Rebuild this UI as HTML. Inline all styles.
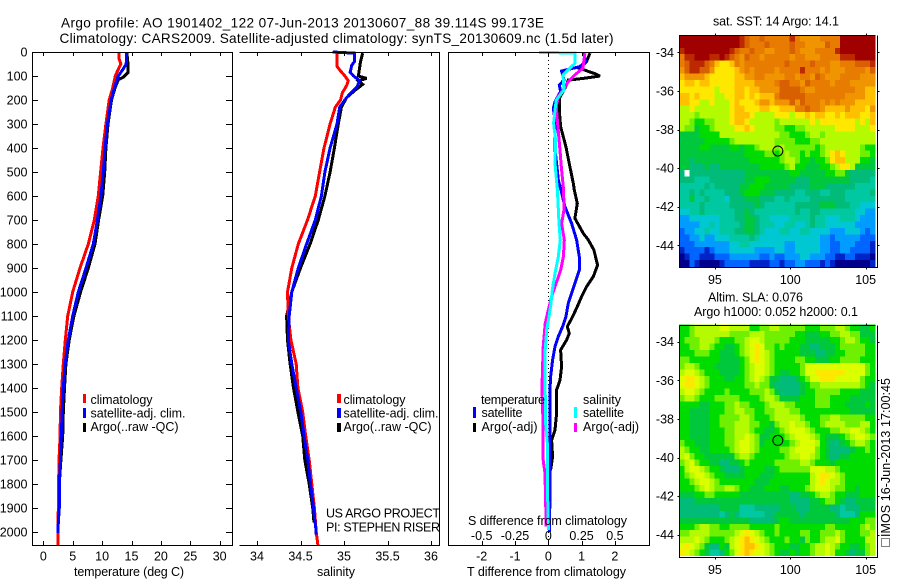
<!DOCTYPE html>
<html lang="en">
<head>
<meta charset="utf-8">
<title>Argo profile 1901402_122</title>
<style>
html,body{margin:0;padding:0;background:#fff;}
svg{display:block;}
text{font-family:"Liberation Sans",sans-serif;font-size:12.5px;fill:#000;}
.crisp{shape-rendering:crispEdges;}
</style>
</head>
<body>
<svg id="chart" xmlns="http://www.w3.org/2000/svg" width="900" height="580" viewBox="0 0 900 580">
  <rect x="0" y="0" width="900" height="580" fill="#fff"/>
  <g id="maps"></g>
  <g id="profiles"></g>
  <g id="axes"></g>
  <g id="labels">
    <text style="font-size:13.6px" x="61" y="27.5" textLength="483" lengthAdjust="spacing">Argo profile: AO 1901402_122 07-Jun-2013 20130607_88 39.114S 99.173E</text>
    <text style="font-size:13.6px" x="59.5" y="43" textLength="554" lengthAdjust="spacing">Climatology: CARS2009. Satellite-adjusted climatology: synTS_20130609.nc (1.5d later)</text>

    <text x="74" y="576" textLength="110" lengthAdjust="spacing">temperature (deg C)</text>
    <text x="317" y="576" textLength="38" lengthAdjust="spacing">salinity</text>
    <text x="467" y="576" textLength="159" lengthAdjust="spacing">T difference from climatology</text>
    <text x="468" y="525" textLength="159" lengthAdjust="spacing">S difference from climatology</text>

    <rect class="crisp" x="83" y="394" width="3" height="9" fill="#f00"/>
    <text x="90.5" y="404" textLength="62" lengthAdjust="spacing">climatology</text>
    <rect class="crisp" x="83" y="408" width="3" height="10" fill="#00f"/>
    <text x="90.5" y="417.5" textLength="95" lengthAdjust="spacing">satellite-adj. clim.</text>
    <rect class="crisp" x="83" y="423" width="3" height="9" fill="#000"/>
    <text x="90.5" y="431" textLength="88" lengthAdjust="spacing">Argo(..raw -QC)</text>

    <rect class="crisp" x="337" y="394" width="4" height="9" fill="#f00"/>
    <text x="343.5" y="404" textLength="62" lengthAdjust="spacing">climatology</text>
    <rect class="crisp" x="337" y="408" width="4" height="10" fill="#00f"/>
    <text x="343.5" y="417.5" textLength="95" lengthAdjust="spacing">satellite-adj. clim.</text>
    <rect class="crisp" x="337" y="423" width="4" height="9" fill="#000"/>
    <text x="343.5" y="431" textLength="88" lengthAdjust="spacing">Argo(..raw -QC)</text>

    <text x="326" y="517.5" textLength="114" lengthAdjust="spacing">US ARGO PROJECT</text>
    <text x="326" y="531.5" textLength="114" lengthAdjust="spacing">PI: STEPHEN RISER</text>

    <text x="481" y="404" textLength="64" lengthAdjust="spacing">temperature</text>
    <rect class="crisp" x="473" y="407" width="3" height="11" fill="#00f"/>
    <text x="481.5" y="417" textLength="41" lengthAdjust="spacing">satellite</text>
    <rect class="crisp" x="473" y="423" width="3" height="9" fill="#000"/>
    <text x="481.5" y="431" textLength="56" lengthAdjust="spacing">Argo(-adj)</text>
    <text x="583" y="404" textLength="38" lengthAdjust="spacing">salinity</text>
    <rect class="crisp" x="574" y="407" width="3" height="11" fill="#0ff"/>
    <text x="583" y="417" textLength="41" lengthAdjust="spacing">satellite</text>
    <rect class="crisp" x="574" y="423" width="3" height="9" fill="#f0f"/>
    <text x="583" y="431" textLength="56" lengthAdjust="spacing">Argo(-adj)</text>

    <text x="713" y="25.5" textLength="126" lengthAdjust="spacing">sat. SST: 14 Argo: 14.1</text>
    <text x="708" y="301.5" textLength="95" lengthAdjust="spacing">Altim. SLA: 0.076</text>
    <text x="694" y="316" textLength="164" lengthAdjust="spacing">Argo h1000: 0.052 h2000: 0.1</text>
    <text transform="translate(890,537) rotate(-90)" x="0" y="0" textLength="159" lengthAdjust="spacing">IMOS 16-Jun-2013 17:00:45</text>
    <rect class="crisp" x="881.5" y="538.5" width="8" height="8" fill="none" stroke="#000" stroke-dasharray="1 1"/>
  </g>
</svg>
<script>
/* ---------- shared depth axis ---------- */
const depthTicks = [0,100,200,300,400,500,600,700,800,900,1000,1100,1200,1300,1400,1500,1600,1700,1800,1900,2000];

/* ---------- temperature panel ---------- */
const tempTicks = [0,5,10,15,20,25,30];
const tempClimDepth = [0,30,50,80,100,150,200,300,400,500,600,700,800,900,1000,1100,1200,1300,1400,1500,1600,1700,1800,2000,2054];
const tempClim = [12.9,12.9,13.2,12.6,12.25,11.8,11.2,10.65,10.15,9.75,9.35,8.68,7.65,6.24,5.0,4.15,3.75,3.4,3.13,2.9,2.85,2.67,2.6,2.5,2.5];
const tempSatDepth = [0,50,70,100,150,200,300,400,500,600,700,800,900,1000,1100,1200,1300,1400,1500,1600,1700,1800,1900,1960,2005];
const tempSat = [14.2,14.1,13.6,12.75,12.1,11.55,10.9,10.5,10.2,9.8,9.2,8.5,7.26,5.95,5.0,4.25,3.7,3.4,3.2,3.06,2.9,2.72,2.72,2.55,2.5];
const tempArgoDepth = [0,50,85,105,115,150,200,300,400,500,600,700,800,900,1000,1100,1200,1300,1400,1500,1600,1700,1800,1900];
const tempArgo = [14.2,14.4,14.4,13.6,12.75,12.2,11.6,11.0,10.65,10.45,10.1,9.4,8.8,7.65,6.35,5.2,4.4,3.85,3.6,3.4,3.3,3.0,2.72,2.72];

/* ---------- salinity panel ---------- */
const salTicks = [34,34.5,35,35.5,36];
const salTickLabels = ['34','34.5','35','35.5','36'];
const salClimDepth = [0,30,60,75,100,120,140,170,200,230,300,400,500,600,700,800,900,1000,1100,1200,1300,1400,1500,1600,1700,1800,1900,2000,2054];
const salClim = [34.92,34.92,34.92,34.95,35.01,35.05,35.03,34.98,34.96,34.9,34.84,34.77,34.72,34.67,34.58,34.475,34.4,34.35,34.36,34.39,34.45,34.47,34.525,34.56,34.6,34.63,34.66,34.68,34.7];
const salSatDepth = [0,5,40,55,85,100,120,145,190,230,300,400,500,600,700,800,900,1000,1100,1200,1300,1400,1500,1600,1700,1800,1900,2000,2010];
const salSat = [34.87,35.12,35.12,35.09,35.07,35.11,35.18,35.15,35.03,34.95,34.92,34.84,34.78,34.74,34.67,34.57,34.475,34.4,34.37,34.36,34.4,34.45,34.505,34.54,34.585,34.615,34.65,34.68,34.68];
const salArgoDepth = [5,40,100,110,120,135,160,190,230,300,400,500,600,700,800,900,1000,1100,1200,1300,1400,1500,1600,1700,1800,1900,1960];
const salArgo = [35.215,35.19,35.165,35.26,35.165,35.215,35.125,35.03,34.97,34.935,34.89,34.84,34.78,34.705,34.61,34.5,34.4,34.34,34.35,34.38,34.42,34.47,34.525,34.55,34.6,34.64,34.655];

/* ---------- difference panel ---------- */
const tDiffTicks = [-2,-1,0,1,2];
const sDiffTicks = [-0.5,-0.25,0,0.25,0.5];
const sDiffLabels = ['-0.5','-0.25','0','0.25','0.5'];
const tSatDiffDepth = [3,40,61,79,117,137,165,207,235,283,325,408,464,533,575,644,714,783,853,908,964,992,1047,1103,1144,1186,1228,1283,1353,1408,1644,1852,2000];
const tSatDiff = [1.05,1.12,0.95,0.4,0.47,0.33,0.37,0.2,0.15,0.2,0.2,0.2,0.25,0.3,0.38,0.5,0.7,0.85,0.93,0.93,0.8,0.73,0.6,0.53,0.43,0.3,0.2,0.13,0.07,0.05,0.05,0.05,0.03];
const tArgoDiffDepth = [5,40,68,90,100,110,117,151,193,242,311,394,478,547,575,631,693,756,783,825,888,936,978,1019,1061,1103,1144,1172,1200,1242,1311,1367,1408,1506,1575,1617,1686,1742];
const tArgoDiff = [1.25,1.15,0.93,1.4,1.55,1.05,0.6,0.5,0.33,0.33,0.37,0.53,0.65,0.75,0.78,0.87,0.8,1.05,1.2,1.37,1.48,1.35,1.15,1.0,0.87,0.73,0.57,0.63,0.55,0.37,0.4,0.35,0.25,0.25,0.2,0.1,0.13,0.07];
const sSatDiffDepth = [3,3.5,47,95,158,200,242,297,367,464,575,714,783,853,922,992,1047,1103,1158,1242,1408,1547,1644,1852,1992];
const sSatDiff = [-0.068,0.2,0.2,0.11,0.118,0.06,0.05,0.04,0.055,0.05,0.068,0.08,0.09,0.075,0.05,0.03,0.02,0.005,-0.012,-0.023,-0.023,-0.02,-0.005,-0.005,0.002];
const sArgoDiffDepth = [5,68,95,123,158,186,228,297,381,492,575,658,714,783,853,908,978,1019,1075,1131,1228,1408,1464,1630,1700,1756,1922,1978];
const sArgoDiff = [0.275,0.26,0.2,0.15,0.11,0.075,0.06,0.07,0.083,0.1,0.115,0.118,0.1,0.12,0.113,0.093,0.05,0.025,0,-0.023,-0.038,-0.048,-0.043,-0.038,-0.038,-0.025,-0.018,-0.018];

/* ---------- maps ---------- */
const lonTicks = [95,100,105];
const latTicks = [-34,-36,-38,-40,-42,-44];
const profileLon = 99.173;
const profileLat = -39.114;
const mapColumns = 39;
const mapRows = 36;
const cellDegrees = 1/3;
/* each character is one map cell's colour level, west to east, north to south */
const sstLevels = [
"rrrrrrrrrr rrqpoopooo ooqonnnnoo oorrrrrrr",
"rrrrrrrrrr rrqpooopoo oopoonnnnp oorrrrrrr",
"qrrrrrrrrr qpoopoonno ooponnnooo oqrrrrrrr",
"oqqrrrqqrq ponpoonooo oonoonnnoo ooqqqrrrr",
"opqqqpomll monooooooo opoooopooo nnooopppq",
"npqqppnlll lmnonoooon ooooqooono nnnoooonp",
"mnnnnmllll lmmnnoonnn noonoonpon nnoooonnn",
"lmmlmmllll lmmmmnnnno ppoonpoooo nooonnnnn",
"lllllllkll lmmlmmnnnn pppponnooo ooooonnmm",
"mmlmlllkkl lmmlmlmmmo pppppooooo ooonnnnmm",
"mmllkklkkk lmlllmnnmn nnpnpooono nonnnmmmm",
"kklkkkkkkk lmmlllmmll mmmoopoonm mmmnmmmln",
"kkkjkkkkkk lmmmlkkkkl llkllmlmml lmlmmmllm",
"kkjiijjkkk lmmlkkkkkj kkkkkklkll lllllklkm",
"kjjhiijkkk kllmlkkkkj jiijjkkkkk kllllkkkl",
"hhhhiiiikk kkkkkkkkkk jjiiijkkjk kkkkkkkkk",
"hhhhhiiiii jkkkkkkkkj jjjiiijjkk kkkkkkkkk",
"hhhhiihhhh iihiijkkkj kjjjjjjijk kkkkkkjii",
"hhhhhhhhhh hhhiiiijji jkjjijiijk lmlkkkjji",
"hhghhhhhhh hhhhiiiiii jkkjiihiij lmmkkkiih",
"hhggghgghh hhhhhhiiii ijkiihhhii jkllkhhhh",
"gwgggggggg ggghhhhhhh hhiihhhhhi ijjhggggg",
"gggfffgggg ggghhiiihh hhhggghhhh hhhhggggf",
"fffffgfggg gghhiiihhh hhgggghhhg gggggffff",
"ffgfgffffg gghiiihhhg gggffgggff gggfffffg",
"ffhffgfffe ggghhhgggf fgffffgggg gggffffff",
"ffffgfffff ggggghgfff fffggggghh hgggffeee",
"eeffgfffff fgghgfffff fffgffggff fffffeedd",
"ddeeeeeeff fgghhgffee eeffffgffe eefffeddd",
"ddddeefeff ffghhgfffe effeefgffe eeeeedddd",
"cddeefeeff fgghhgfeee ffeeffeeee dddeeedcd",
"ccddeddeee ffffgfeeee eeeeeeeedd cdddddccc",
"cccddddddd eeffeeeeee eddeeeeedd ccdddcccb",
"bccccbcddd eeeeedddde eddeeeeedd ccddccccb",
"abccbbbccc ddddddccdc cdddeedddc cbbccbbba",
"aacbaaaabc ccccbbbbcc bccddcccbc baaaaaaab"
];
const slaLevels = [
"iijkkkkkKK kkkkiijjkk jjjjjiiijj jkkjiihhi",
"iijkkkkkkk jjjjkkkjjj jjjiihhhii jjkkjjhhh",
"ijjjkkkjii ijjkKKkjjj jjiiihhhhh iijkkjiih",
"iijjkkjiih hijkKlKjji jiiihhgghh hijjjjjii",
"iiijjjiihh hijkKlKkji iiiihhhggh hiijjjjii",
"jjiiiiiihh hhijKlKkji iiijjiihhh iijjjjiii",
"jkkjiiihhh hhijkKKkji iiiijKKKKK KKKKKKKji",
"kKKkjiiihh hhijkKKkji hhiijKKlll lllKKKKji",
"KllKkjiiih hiijkKkjhh ggghijKKll lKKKKKjii",
"KllKkjiiii iiijjkjjhg gggghijjkk kkkkkkjih",
"kKKkjiiiij iiiijjjkjh gggghiijjj jjiiiihhh",
"jkkjiiijjj jjiiiijkkj hhhhiiijjj iiiihhhhh",
"iiiihhiiij jkjjiiijkk kjjiiiijjj iiihhhhih",
"iihhhhiiij jkkjjiijjk kkjjiiiiii iiiihhhhh",
"iihhhhiijj jjkkjiiijk kkkkjiiijj kkjjjjjii",
"iihhhhiijj jkkkjjiihj kkKkkjiijk kkkjjjkki",
"iihhhhiiij jkkkjiihhi jkKKKkjiii jjkkKKkji",
"iihhhhiiij jkkKkjhhii ijkKKKkjih hhijkKKkj",
"jiihhhiiij jkKKkjhiii iijkKKKkih gghijkkji",
"kjiihhiiii jkKKkjiiii jjkKKKKjih gggghiiji",
"kKjiihhhhh hjkkjiiiii ijkkKKkjih gghhiiiii",
"jkKjiihhgg hhijiiiiij jjjjkkjiii hiiiiiiii",
"ikKKkjiihg gghiiiihhi jjjjjjKKKk kjiiiiiii",
"ijkKKkjiih hhhiiihhhi iiiiiikKll Kkjiiiiii",
"iijkKKkjii iiiiihhhii iiiiiikKlK kkjiiiiii",
"iiijkKkjjk kjiihhhiii hhiiijkKKK kjjiihiii",
"hhhiijjiii iihhhhhhhh hhgghhijkk jiihhhiii",
"ggghhhhhhh hhhhhhhhhh hhgggghhij jihgghhhh",
"gggggggghh hhfffggggg hhhggghhhh ggfggghhh",
"ggggggggfg hgfffffggh hhhhghhhhh hgfffgiii",
"hhhhhhhhhh hhhhgggggh iihhhhhhhh hhhhiiijj",
"iiijkkjjii jjjjiiiiij iiiiiiiiij jiiiiijkj",
"jjkkkkjjjj jkKlKkjiij iiiijjiijj jkjiiijjk",
"kkkKkjiiij kKlmlKkjii ijiihjiijk kKjiiiikk",
"KlKkjhggih kKlmmlKkji iihhiijkkK kjiihhijk",
"lKkjihffgi jKlmlKKkji hhihiijkkK kiihghhjk"
];
const levelColors = {a:'#00008c',b:'#0024c8',c:'#0064ff',d:'#009cff',e:'#00c8d2',f:'#00c8a0',g:'#00bc78',h:'#00c83c',i:'#00dc00',j:'#6ef000',k:'#b4fa00',K:'#dcff00',l:'#ffe800',m:'#ffc000',n:'#f09400',o:'#e87c00',p:'#d86000',q:'#bc2800',r:'#a00000',w:'#ffffff'};

/* ---------- scales ---------- */
const yDepth = d => 52 + 0.24 * d;
const xTemp = v => 43.3 + 5.88 * v;
const xSal = v => 257 + 87 * (v - 34);
const xTDiff = v => 548.3 + 33.3 * v;
const xSDiff = v => 548.3 + 133.2 * v;
const xLon = lon => 790.3 + (lon - 100) * 15.07;
const ySstLat = lat => 52.3 + (-34 - lat) * 19.3;
const ySlaLat = lat => 341.7 + (-34 - lat) * 19.3;

const SVG_NS = 'http://www.w3.org/2000/svg';
const mapsGroup = document.getElementById('maps');
const profilesGroup = document.getElementById('profiles');
const axesGroup = document.getElementById('axes');

function shape(tag, props) {
  const el = document.createElementNS(SVG_NS, tag);
  for (const key in props) el.setAttribute(key, props[key]);
  return el;
}

function drawHeatmap(levels, yLat, prefix) {
  const lon0 = 92.63, lat0 = -33.1;
  for (let r = 0; r < mapRows; r++) {
    const row = levels[r].replace(/ /g, '');
    for (let c = 0; c < mapColumns; c++) {
      const code = row.charAt(c) || row.charAt(row.length - 1);
      const x0 = xLon(lon0 + c * cellDegrees), x1 = xLon(lon0 + (c + 1) * cellDegrees);
      const y0 = yLat(lat0 - r * cellDegrees), y1 = yLat(lat0 - (r + 1) * cellDegrees);
      const cell = shape('rect', {x: x0, y: y0, width: x1 - x0 + 0.3, height: y1 - y0 + 0.3, fill: levelColors[code], class: 'crisp'});
      
      
      mapsGroup.appendChild(cell);
    }
  }
}

function drawMapFrame(yLat, top, bottom, prefix) {
  const left = 679.5, right = 877.5;
  const frame = shape('path', {d: `M${left} ${top}H875.5M${left} ${top}V${bottom}H${right}V${top}`, fill: 'none', stroke: '#000', 'stroke-width': 1, class: 'crisp'});
  
  
  axesGroup.appendChild(frame);
  lonTicks.forEach(lon => {
    const x = Math.round(xLon(lon)) + 0.5;
    const tick = shape('path', {d: `M${x} ${top - 2}V${top}M${x} ${bottom}V${bottom + 2}`, stroke: '#000', class: 'crisp'});
    
    
    axesGroup.appendChild(tick);
    const label = shape('text', {x: xLon(lon), y: bottom + 16.5, 'text-anchor': 'middle'});
    label.textContent = lon;
    
    
    axesGroup.appendChild(label);
  });
  latTicks.forEach(lat => {
    const y = Math.round(yLat(lat)) + 0.5;
    const tick = shape('path', {d: `M${left - 2} ${y}H${left}M${right} ${y}H${right + 2}`, stroke: '#000', class: 'crisp'});
    
    
    axesGroup.appendChild(tick);
    const label = shape('text', {x: 674, y: yLat(lat) + 4.5, 'text-anchor': 'end'});
    label.textContent = lat;
    
    
    axesGroup.appendChild(label);
  });
  const marker = shape('circle', {cx: xLon(profileLon), cy: yLat(profileLat), r: 5, fill: 'none', stroke: '#000', 'stroke-width': 1});
  
  
  axesGroup.appendChild(marker);
}

function drawProfile(depths, values, xScale, color, name) {
  const pts = depths.map((d, i) => xScale(values[i]).toFixed(1) + ',' + yDepth(d).toFixed(1)).join(' ');
  const line = shape('polyline', {points: pts, fill: 'none', stroke: color, 'stroke-width': 3, 'stroke-linejoin': 'miter', 'stroke-miterlimit': 3, class: 'crisp'});
  
  
  profilesGroup.appendChild(line);
}

function drawPanelFrame(left, right, hasLeft, prefix) {
  const top = 52, bottom = 545;
  const d = hasLeft
    ? `M${left}.5 ${top}.5H${right}.5V${bottom}.5H${left}.5Z`
    : `M${left}.5 ${top}.5H${right}.5V${bottom}.5H${left}.5`;
  const frame = shape('path', {d: d, fill: 'none', stroke: '#000', 'stroke-width': 1.2, class: 'crisp'});
  
  
  axesGroup.appendChild(frame);
}

function drawXTicks(values, labels, xScale, labelY, prefix) {
  values.forEach((v, i) => {
    const x = Math.round(xScale(v)) + 0.5;
    const tick = shape('path', {d: `M${x} 52V56M${x} 545V541`, stroke: '#000', class: 'crisp'});
    
    
    axesGroup.appendChild(tick);
    const label = shape('text', {x: xScale(v), y: labelY, 'text-anchor': 'middle'});
    label.textContent = labels[i];
    
    
    axesGroup.appendChild(label);
  });
}

/* maps */
drawHeatmap(sstLevels, ySstLat, 'sst');
drawHeatmap(slaLevels, ySlaLat, 'sla');
drawMapFrame(ySstLat, 35.5, 267.5, 'sst');
drawMapFrame(ySlaLat, 325.5, 557.5, 'sla');

/* profile lines */
drawProfile(tempArgoDepth, tempArgo, xTemp, '#000', 'temperature-argo-line');
drawProfile(tempClimDepth, tempClim, xTemp, '#f00', 'temperature-climatology-line');
drawProfile(tempSatDepth, tempSat, xTemp, '#00f', 'temperature-satellite-adj-line');
drawProfile(salArgoDepth, salArgo, xSal, '#000', 'salinity-argo-line');
drawProfile(salClimDepth, salClim, xSal, '#f00', 'salinity-climatology-line');
drawProfile(salSatDepth, salSat, xSal, '#00f', 'salinity-satellite-adj-line');

const zeroLine = shape('line', {x1: 548.5, x2: 548.5, y1: 52, y2: 545, stroke: '#000', 'stroke-dasharray': '1 3', class: 'crisp'});


profilesGroup.appendChild(zeroLine);

drawProfile(tArgoDiffDepth, tArgoDiff, xTDiff, '#000', 't-difference-argo-line');
drawProfile(tSatDiffDepth, tSatDiff, xTDiff, '#00f', 't-difference-satellite-line');
drawProfile(sArgoDiffDepth, sArgoDiff, xSDiff, '#f0f', 's-difference-argo-line');
drawProfile(sSatDiffDepth, sSatDiff, xSDiff, '#0ff', 's-difference-satellite-line');

/* frames and ticks */
drawPanelFrame(32, 232, true, 'temperature');
drawPanelFrame(239, 439, false, 'salinity');
drawPanelFrame(448, 649, true, 'difference');

drawXTicks(tempTicks, tempTicks, xTemp, 560.5, 'temperature');
drawXTicks(salTicks, salTickLabels, xSal, 560.5, 'salinity');
drawXTicks(tDiffTicks, tDiffTicks, xTDiff, 560.5, 't-difference');

sDiffTicks.forEach((v, i) => {
  const label = shape('text', {x: xSDiff(v), y: 540, 'text-anchor': 'middle'});
  label.textContent = sDiffLabels[i];
  
  
  axesGroup.appendChild(label);
});

depthTicks.forEach(d => {
  const y = Math.round(yDepth(d)) + 0.5;
  const tick = shape('path', {d: `M32 ${y}H38M232 ${y}H226`, stroke: '#000', class: 'crisp'});
  
  
  axesGroup.appendChild(tick);
  const label = shape('text', {x: 27.5, y: yDepth(d) + 4.5, 'text-anchor': 'end'});
  label.textContent = d;
  
  
  axesGroup.appendChild(label);
});
</script>
</body>
</html>
